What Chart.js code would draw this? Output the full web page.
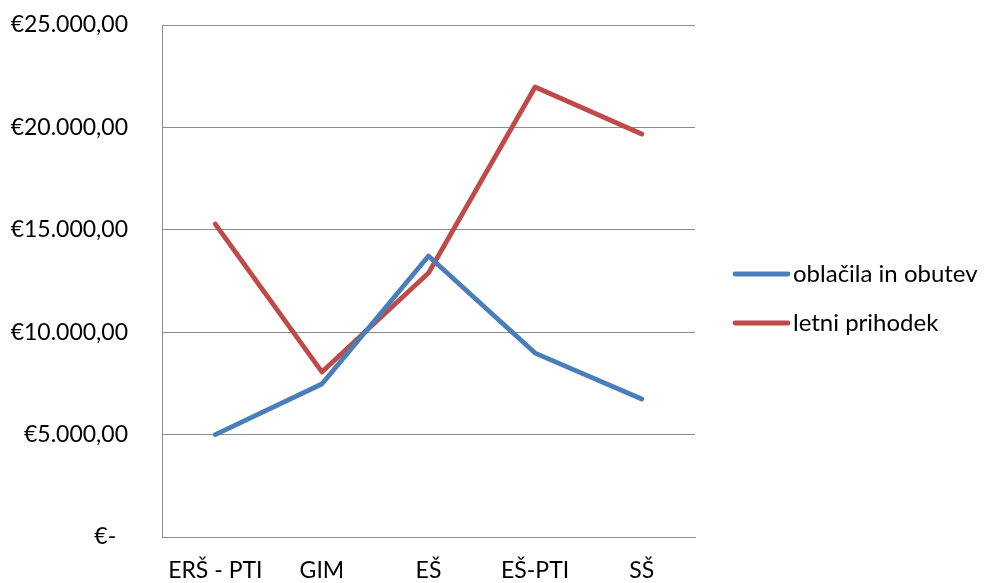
<!DOCTYPE html>
<html>
<head>
<meta charset="utf-8">
<script src="https://cdn.jsdelivr.net/npm/chart.js@4/dist/chart.umd.min.js"></script>
<style>
  html, body { margin: 0; padding: 0; background: #fff; }
  #wrap { width: 987px; height: 583px; }
</style>
</head>
<body>
<div id="wrap"><canvas id="c" width="987" height="583"></canvas></div>
<script>
// Categories (school types) and the two series in euros
const categories = ['ERŠ - PTI', 'GIM', 'EŠ', 'EŠ-PTI', 'SŠ'];
const clothingValues = [5000, 7470, 13720, 8980, 6740];
const incomeValues = [15280, 8060, 12890, 21970, 19680];
const seriesNames = ['oblačila in obutev', 'letni prihodek'];
const yTicks = [0, 5000, 10000, 15000, 20000, 25000];

const FONT = 'Lato, "Open Sans", sans-serif';
const GRID = '#8c8c8c';

function euro(v) {
  if (v === 0) return '€-  ';
  const parts = v.toFixed(2).split('.');
  const int = parts[0].replace(/\B(?=(\d{3})+(?!\d))/g, '.');
  return '€' + int + ',' + parts[1];
}

// Legend drawn at the right, line sample followed by the series name
const sideLegend = {
  id: 'sideLegend',
  afterDraw(chart) {
    const ctx = chart.ctx;
    const rows = [274, 323];
    ctx.save();
    chart.data.datasets.forEach((ds, i) => {
      const y = rows[i];
      ctx.strokeStyle = ds.borderColor;
      ctx.lineWidth = 4.8;
      ctx.lineCap = 'round';
      ctx.beginPath();
      ctx.moveTo(735, y);
      ctx.lineTo(788, y);
      ctx.stroke();
      ctx.fillStyle = '#000';
      ctx.font = '24px ' + FONT;
      ctx.textBaseline = 'middle';
      ctx.textAlign = 'left';
      ctx.fillText(ds.label, 793, y);
    });
    ctx.restore();
  }
};

new Chart(document.getElementById('c'), {
  type: 'line',
  data: {
    labels: categories,
    datasets: [
      {
        label: seriesNames[0],
        data: clothingValues,
        borderColor: '#4a7ebb',
        backgroundColor: '#4a7ebb',
        borderWidth: 4.8,
        borderCapStyle: 'round',
        borderJoinStyle: 'round',
        pointRadius: 0,
        tension: 0
      },
      {
        label: seriesNames[1],
        data: incomeValues,
        borderColor: '#be4b48',
        backgroundColor: '#be4b48',
        borderWidth: 4.8,
        borderCapStyle: 'round',
        borderJoinStyle: 'round',
        pointRadius: 0,
        tension: 0
      }
    ]
  },
  options: {
    responsive: false,
    animation: false,
    devicePixelRatio: 1,
    layout: { padding: { top: 25, right: 292, bottom: 0, left: 0 } },
    plugins: {
      legend: { display: false },
      tooltip: { enabled: false }
    },
    scales: {
      x: {
        offset: true,
        grid: { display: false, drawTicks: false },
        border: { display: true, color: GRID, width: 1 },
        ticks: {
          color: '#000',
          font: { family: FONT, size: 23 },
          padding: 20,
          maxRotation: 0
        },
        afterFit(s) { s.height = 46; s.paddingLeft = 0; s.paddingRight = 0; }
      },
      y: {
        min: 0,
        max: 25000,
        afterBuildTicks(s) { s.ticks = yTicks.map(v => ({ value: v })); },
        grid: { color: GRID, lineWidth: 1, drawTicks: false },
        border: { display: true, color: GRID, width: 1 },
        ticks: {
          color: '#000',
          font: { family: FONT, size: 23 },
          padding: 34,
          callback: (v) => euro(v)
        },
        afterFit(s) { s.width = 162; s.paddingTop = 0; s.paddingBottom = 0; }
      }
    }
  },
  plugins: [sideLegend]
});
</script>
</body>
</html>
